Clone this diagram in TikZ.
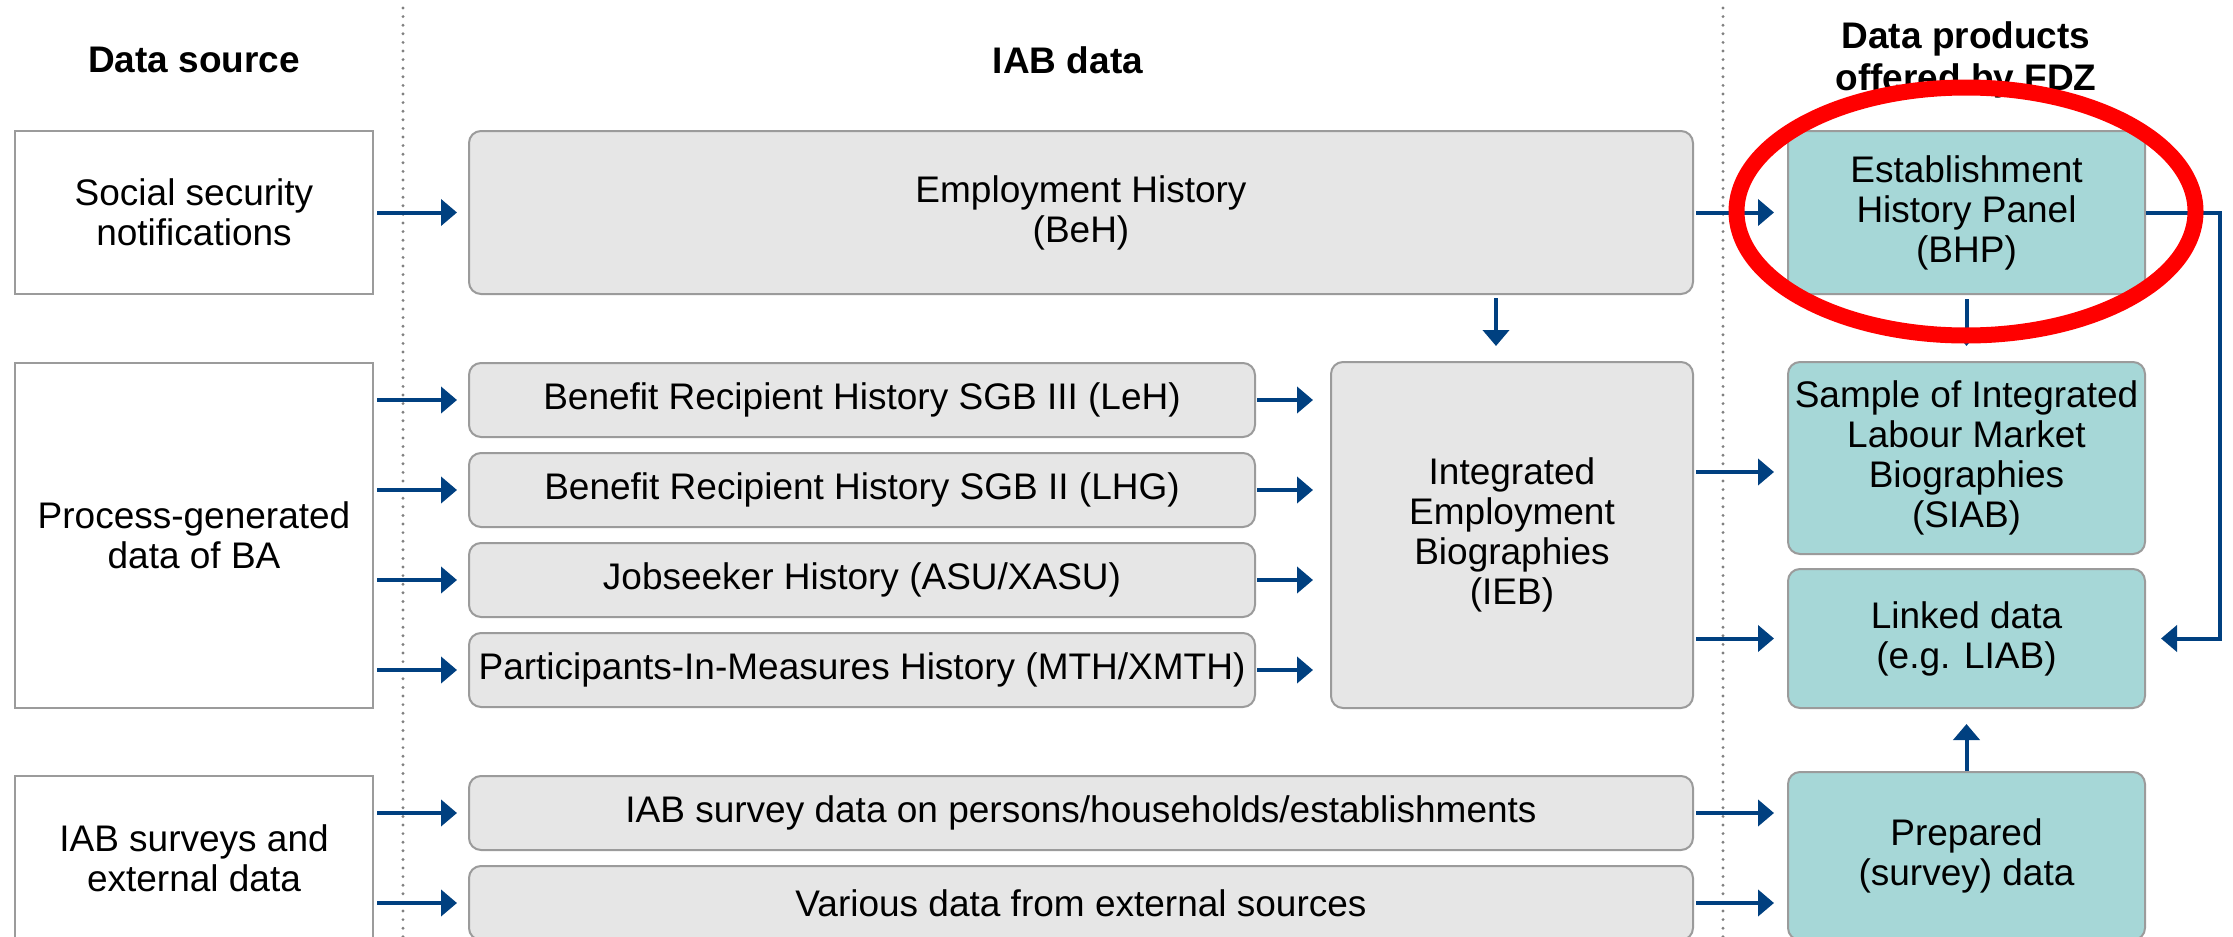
\documentclass[tikz,border=0pt]{standalone}
\usepackage{fontspec}
\setmainfont{Liberation Sans}
\usetikzlibrary{arrows.meta,calc}
\definecolor{arrblue}{RGB}{0,64,128}
\definecolor{boxgray}{RGB}{230,230,230}
\definecolor{boxline}{RGB}{155,155,155}
\definecolor{fdzteal}{RGB}{166,215,215}
\definecolor{dotgray}{RGB}{128,128,128}
\begin{document}
\begin{tikzpicture}[x=0.5pt,y=-0.5pt,
  base/.style={font=\fontsize{18.5}{20}\selectfont, align=center, inner sep=0pt, line width=1pt},
  srcbox/.style={base, draw=boxline, fill=white, minimum width=179pt},
  gbox/.style={base, draw=boxline, fill=boxgray, rounded corners=6pt},
  tbox/.style={base, draw=boxline, fill=fdzteal, rounded corners=6pt, minimum width=178.5pt},
  head/.style={font=\fontsize{18.5}{21}\selectfont\bfseries, align=center, inner sep=0pt},
  arr/.style={draw=arrblue, line width=2pt, -{Triangle[length=8pt,width=13pt]}, shorten <=1.5pt, shorten >=6.5pt},
  dotline/.style={draw=dotgray, line width=1.6pt, line cap=round, dash pattern=on 0pt off 4.3pt}
]
\useasboundingbox (0,0) rectangle (2233,937);
\clip (0,0) rectangle (2233,937);
\fill[white] (0,0) rectangle (2233,937);

% dotted separators
\draw[dotline] (403,8) -- (403,940);
\draw[dotline] (1723,8) -- (1723,940);

% headers
\node[head] (h1) at (194,60) {Data source};
\node[head] (h2) at (1068,60) {IAB data};
\node[head] (h3) at (1966,60) {Data products\\offered by FDZ};

% data sources
\node[srcbox, minimum height=81.5pt] (src1) at (194,212.5) {Social security\\notifications};
\node[srcbox, minimum height=172.5pt] (src2) at (194,535.5) {Process-generated\\data of BA};
\node[srcbox, minimum height=82pt] (src3) at (194,858) {IAB surveys and\\external data};

% IAB data
\node[gbox, minimum width=612pt, minimum height=81.5pt] (beh) at (1081,212.5) {Employment History\\(BeH)};
\node[gbox, minimum width=393pt, minimum height=37pt] (leh) at (862,400) {Benefit Recipient History SGB III (LeH)};
\node[gbox, minimum width=393pt, minimum height=37pt] (lhg) at (862,490) {Benefit Recipient History SGB II (LHG)};
\node[gbox, minimum width=393pt, minimum height=37pt] (asu) at (862,580) {Jobseeker History (ASU/XASU)};
\node[gbox, minimum width=393pt, minimum height=37pt] (mth) at (862,670) {Participants-In-Measures History (MTH/XMTH)};
\node[gbox, minimum width=181pt, minimum height=173pt] (ieb) at (1512,535) {Integrated\\Employment\\Biographies\\(IEB)};
\node[gbox, minimum width=612pt, minimum height=37pt] (survey) at (1081,813) {IAB survey data on persons/households/establishments};
\node[gbox, minimum width=612pt, minimum height=37pt] (various) at (1081,903) {Various data from external sources};

% FDZ products
\node[tbox, minimum height=81.5pt] (bhp) at (1966.5,212.5) {Establishment\\History Panel\\(BHP)};
\node[tbox, minimum height=96pt] (siab) at (1966.5,458) {Sample of Integrated\\Labour Market\\Biographies\\(SIAB)};
\node[tbox, minimum height=69.5pt] (linked) at (1966.5,638.5) {Linked data\\(e.g. LIAB)};
\node[tbox, minimum height=84pt] (prep) at (1966.5,856) {Prepared\\(survey) data};

% helper coordinates
\coordinate (bx) at (1496,0);
\coordinate (ay1) at (0,472);
\coordinate (rx) at (2220,0);

% arrows: sources -> IAB data
\draw[arr, shorten >=5.5pt] (src1.east) -- (beh.west);
\draw[arr, shorten >=5.5pt] (src2.east |- leh.west) -- (leh.west);
\draw[arr, shorten >=5.5pt] (src2.east |- lhg.west) -- (lhg.west);
\draw[arr, shorten >=5.5pt] (src2.east |- asu.west) -- (asu.west);
\draw[arr, shorten >=5.5pt] (src2.east |- mth.west) -- (mth.west);
\draw[arr, shorten >=5.5pt] (src3.east |- survey.west) -- (survey.west);
\draw[arr, shorten >=5.5pt] (src3.east |- various.west) -- (various.west);

% arrows: IAB data -> IEB
\draw[arr, shorten <=0.5pt, shorten >=8.5pt] (leh.east) -- (leh.east -| ieb.west);
\draw[arr, shorten <=0.5pt, shorten >=8.5pt] (lhg.east) -- (lhg.east -| ieb.west);
\draw[arr, shorten <=0.5pt, shorten >=8.5pt] (asu.east) -- (asu.east -| ieb.west);
\draw[arr, shorten <=0.5pt, shorten >=8.5pt] (mth.east) -- (mth.east -| ieb.west);
\draw[arr, shorten >=7.5pt] (beh.south -| bx) -- (ieb.north -| bx);

% arrows: IAB data -> products
\draw[arr, shorten <=1pt] (beh.east) -- (bhp.west);
\draw[arr, shorten <=1pt] (ieb.east |- ay1) -- (siab.west |- ay1);
\draw[arr, shorten <=1pt] (ieb.east |- linked.west) -- (linked.west);
\draw[arr, shorten <=1pt] (survey.east) -- (survey.east -| prep.west);
\draw[arr, shorten <=1pt] (various.east) -- (various.east -| prep.west);

% arrows among products
\draw[arr, shorten <=0pt, shorten >=7.5pt] (prep.north) -- (linked.south);
\draw[arr, shorten <=2pt, shorten >=7.5pt] (bhp.south) -- (siab.north);
\draw[arr, shorten <=0pt, shorten >=7.5pt] (bhp.east) -- (bhp.east -| rx) |- (linked.east);

% red highlight ellipse
\draw[red, line width=8pt] (1966,211.5) ellipse [x radius=114.75pt, y radius=62pt];
\end{tikzpicture}
\end{document}
